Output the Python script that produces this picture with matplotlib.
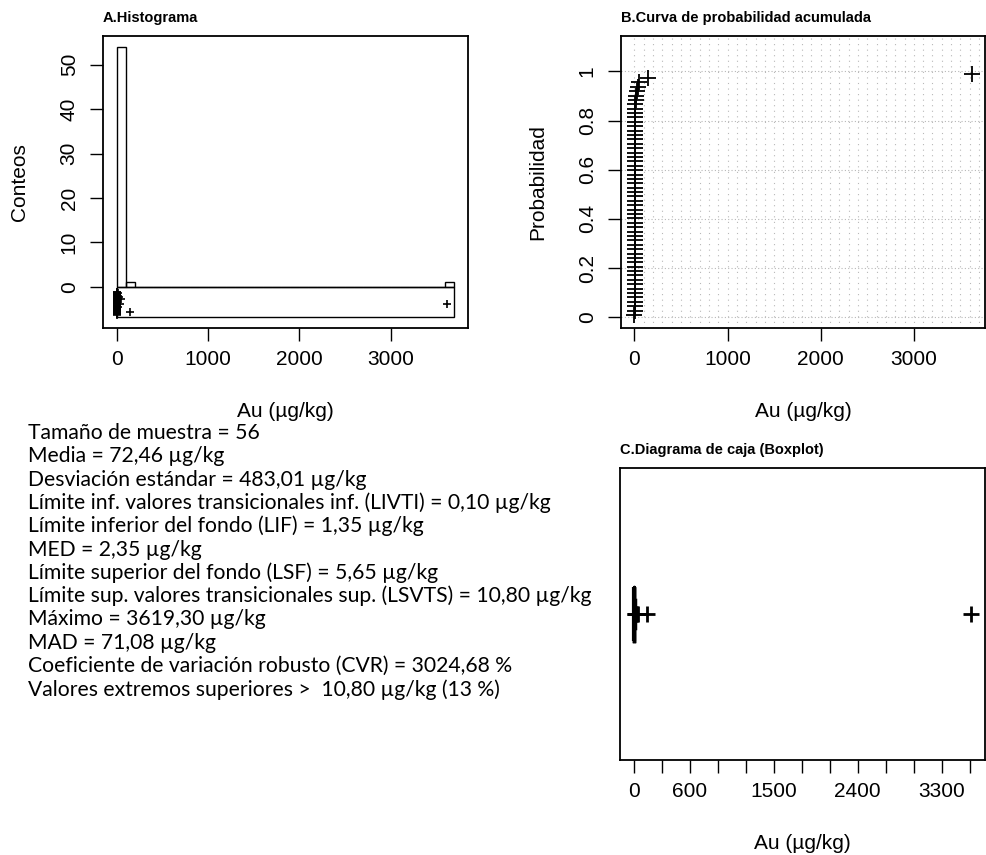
import numpy as np
import matplotlib
matplotlib.use("Agg")
import matplotlib.pyplot as plt
from matplotlib.patches import Rectangle

# Au values (µg/kg), 56 samples
au_values = [0.1, 0.3, 0.5, 0.6, 0.8, 0.9, 1.0, 1.1, 1.2, 1.3, 1.35, 1.4, 1.5, 1.6,
             1.7, 1.8, 1.9, 1.9, 2.0, 2.0, 2.1, 2.1, 2.2, 2.2, 2.3, 2.3, 2.3, 2.3,
             2.4, 2.4, 2.5, 2.6, 2.8, 3.0, 3.2, 3.4, 3.6, 3.9, 4.2, 4.5, 4.8, 5.2,
             5.6, 6.0, 6.6, 7.2, 8.0, 9.0, 10.0, 14.0, 19.0, 26.0, 35.0, 48.0,
             145.0, 3619.3]

# vertical offsets of the strip under the histogram (as seen in the picture)
strip_y = [-5.9, -2.1, -4.6, -3.3, -1.4, -5.2, -2.8, -4.0, -1.8, -6.1, -3.6, -2.4, -4.9, -1.2,
           -5.5, -3.0, -4.3, -1.6, -5.8, -2.6, -3.9, -1.9, -4.7, -2.2, -5.3, -3.4, -1.3, -6.0,
           -2.9, -4.4, -1.5, -5.0, -3.7, -2.0, -4.1, -5.7, -1.7, -3.2, -2.5, -6.2, -4.8, -1.1,
           -3.5, -5.1, -2.7, -4.2, -1.9, -5.6, -3.1, -1.3, -4.5, -2.3, -3.8, -2.6,
           -5.6, -3.8]
strip_depth = -6.8
bin_width = 100

hist_xticks = [0, 1000, 2000, 3000]
hist_yticks = [0, 10, 20, 30, 40, 50]
prob_yticks = [0, 0.2, 0.4, 0.6, 0.8, 1.0]
prob_ylabels = ["0", "0.2", "0.4", "0.6", "0.8", "1"]
box_xticks = list(range(0, 3601, 300))
box_xlabels = ["0", "", "600", "", "", "1500", "", "", "2400", "", "", "3300", ""]

# summary statistics shown in the text block
livti = 0.10
lif = 1.35
med = 2.35
lsf = 5.65
lsvts = 10.80

stat_lines = [
    "Tamaño de muestra = 56",
    "Media = 72,46 µg/kg",
    "Desviación estándar = 483,01 µg/kg",
    "Límite inf. valores transicionales inf. (LIVTI) = 0,10 µg/kg",
    "Límite inferior del fondo (LIF) = 1,35 µg/kg",
    "MED = 2,35 µg/kg",
    "Límite superior del fondo (LSF) = 5,65 µg/kg",
    "Límite sup. valores transicionales sup. (LSVTS) = 10,80 µg/kg",
    "Máximo = 3619,30 µg/kg",
    "MAD = 71,08 µg/kg",
    "Coeficiente de variación robusto (CVR) = 3024,68 %",
    "Valores extremos superiores >  10,80 µg/kg (13 %)",
]

xlab = "Au (µg/kg)"

plt.rcParams['font.family'] = ['Liberation Sans', 'DejaVu Sans']
plt.rcParams['axes.linewidth'] = 1.3
plt.rcParams['xtick.major.size'] = 9.5
plt.rcParams['ytick.major.size'] = 9.5
plt.rcParams['xtick.major.width'] = 1.0
plt.rcParams['ytick.major.width'] = 1.0
plt.rcParams['xtick.labelsize'] = 15
plt.rcParams['ytick.labelsize'] = 15

W, H = 986, 855
fig = plt.figure(figsize=(W / 100, H / 100), dpi=100)


def px_axes(left, top, right, bottom):
    return fig.add_axes([left / W, 1 - bottom / H, (right - left) / W, (bottom - top) / H])


data = np.array(au_values)
xmin, xmax = data.min(), data.max()
xpad = 0.04 * (xmax - xmin)

# ---- A. histogram ----
ax1 = px_axes(103, 36, 468, 328)
bins = np.arange(0, xmax + bin_width, bin_width)
ax1.hist(data, bins=bins, fill=False, edgecolor='black', linewidth=1.0)
ax1.add_patch(Rectangle((bins[0], strip_depth), bins[-1] - bins[0], -strip_depth,
                        fill=False, edgecolor='black', linewidth=1.0))
ax1.plot(data, strip_y, '+', color='black', markersize=6, markeredgewidth=1.2)
ax1.set_xlim(bins[0] - 0.04 * (bins[-1] - bins[0]), bins[-1] + 0.04 * (bins[-1] - bins[0]))
ytop = 54
ax1.set_ylim(strip_depth - 0.04 * (ytop - strip_depth), ytop + 0.04 * (ytop - strip_depth))
ax1.set_xticks(hist_xticks)
ax1.set_yticks(hist_yticks)
ax1.tick_params(axis='x', pad=6)
ax1.tick_params(axis='y', pad=8)
plt.setp(ax1.get_yticklabels(), rotation=90, va='center')
ax1.set_ylabel("Conteos", fontsize=15, labelpad=22)
ax1.set_xlabel(xlab, fontsize=15, labelpad=24)
ax1.set_title("A.Histograma", loc='left', fontsize=10.5, fontweight='bold', pad=10)

# ---- B. cumulative probability ----
ax2 = px_axes(621, 36, 985, 328)
xs = np.sort(data)
n = len(xs)
probs = (np.arange(1, n + 1) - 0.5) / n
ax2.set_xlim(xmin - xpad, xmax + xpad)
ax2.set_ylim(-0.044, 1.144)
for gx in np.arange(0, xmax + xpad, 100):
    ax2.axvline(gx, color='#b8b8b8', linestyle=(0, (1, 4)), linewidth=0.8, zorder=0)
for gy in prob_yticks:
    ax2.axhline(gy, color='#b8b8b8', linestyle=(0, (1, 2)), linewidth=0.8, zorder=0)
ax2.plot(xs, probs, '+', color='black', markersize=11, markeredgewidth=1.3)
ax2.set_xticks(hist_xticks)
ax2.set_yticks(prob_yticks)
ax2.set_yticklabels(prob_ylabels)
ax2.tick_params(axis='x', pad=6)
ax2.tick_params(axis='y', pad=8)
plt.setp(ax2.get_yticklabels(), rotation=90, va='center')
ax2.set_ylabel("Probabilidad", fontsize=15, labelpad=22)
ax2.set_xlabel(xlab, fontsize=15, labelpad=24)
ax2.set_title("B.Curva de probabilidad acumulada", loc='left', fontsize=10.5,
              fontweight='bold', pad=10)

# ---- C. boxplot ----
ax3 = px_axes(620, 468, 985, 760)
box_stats = [{'med': med, 'q1': lif, 'q3': lsf, 'whislo': livti, 'whishi': lsvts,
              'fliers': data[data > lsvts]}]
ax3.bxp(box_stats, vert=False, widths=0.185, showfliers=True,
        boxprops=dict(linewidth=2.5, color='black'),
        medianprops=dict(linewidth=3, color='black'),
        whiskerprops=dict(linewidth=2.5, color='black'),
        capprops=dict(linewidth=2.5, color='black'),
        flierprops=dict(marker='+', markersize=12, markeredgewidth=2, markeredgecolor='black'))
ax3.set_xlim(xmin - xpad, xmax + xpad)
ax3.set_ylim(0.5, 1.5)
ax3.set_yticks([])
ax3.set_xticks(box_xticks)
ax3.set_xticklabels(box_xlabels)
ax3.tick_params(axis='x', pad=6)
ax3.set_xlabel(xlab, fontsize=15, labelpad=24)
ax3.set_title("C.Diagrama de caja (Boxplot)", loc='left', fontsize=10.5,
              fontweight='bold', pad=10)

# ---- text block ----
txt_font = ['Lato', 'DejaVu Sans']
probe = fig.text(0, 0, stat_lines[7], fontsize=13, family=txt_font)
fig.canvas.draw()
wpx = probe.get_window_extent().width
probe.remove()
txt_size = 13 * 560 / wpx
for i, line in enumerate(stat_lines):
    fig.text(28 / W, 1 - (433 + i * 23.3) / H, line, fontsize=txt_size, family=txt_font,
             va='center', ha='left')

plt.savefig("out.png", dpi=100)
